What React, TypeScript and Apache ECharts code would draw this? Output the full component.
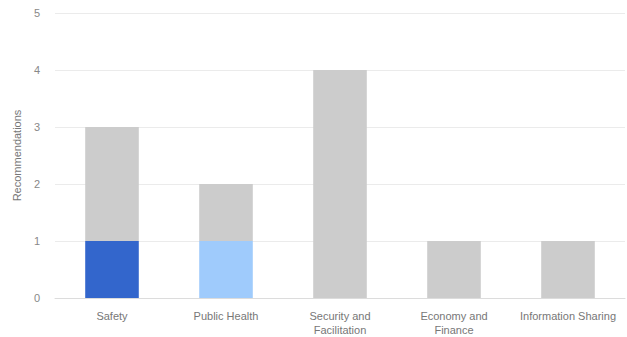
import React, { useEffect, useRef } from "react";
import * as echarts from "echarts";

const categories = ["Safety", "Public Health", "Security and\nFacilitation", "Economy and\nFinance", "Information Sharing"];
const highlightValues = [1, 1, 0, 0, 0];
const highlightColors = ["#3366cc", "#9fcbfc", "#cccccc", "#cccccc", "#cccccc"];
const otherValues = [2, 1, 4, 1, 1];
const yTicks = [0, 1, 2, 3, 4, 5];

export default function App() {
  const ref = useRef<HTMLDivElement>(null);
  useEffect(() => {
    document.body.style.margin = "0";
    const chart = echarts.init(ref.current!, null, { renderer: "svg" });
    const font = "Arial, 'Liberation Sans', sans-serif";
    chart.setOption({
      animation: false,
      grid: { left: 55, right: 2, top: 13, bottom: 37 },
      xAxis: {
        type: "category",
        data: categories,
        axisTick: { show: false },
        axisLine: { show: true, lineStyle: { color: "#dcdcdc" } },
        axisLabel: { color: "#777", fontSize: 11, fontFamily: font, margin: 11, lineHeight: 14, interval: 0 },
      },
      yAxis: {
        type: "value",
        min: yTicks[0],
        max: yTicks[yTicks.length - 1],
        interval: 1,
        name: "Recommendations",
        nameLocation: "middle",
        nameGap: 32,
        nameRotate: 90,
        nameTextStyle: { color: "#777", fontSize: 11, fontFamily: font },
        axisLabel: { color: "#888", fontSize: 11, fontFamily: font, margin: 15 },
        axisLine: { show: false },
        axisTick: { show: false },
        splitLine: { lineStyle: { color: "#ebebeb" } },
      },
      series: [
        {
          type: "bar",
          stack: "s",
          barWidth: "47%",
          data: highlightValues.map((v, i) => ({ value: v, itemStyle: { color: highlightColors[i] } })),
        },
        {
          type: "bar",
          stack: "s",
          barWidth: "47%",
          itemStyle: { color: "#cccccc" },
          data: otherValues,
        },
      ],
    });
    return () => chart.dispose();
  }, []);
  return <div ref={ref} style={{ width: 627, height: 337 }} />;
}
